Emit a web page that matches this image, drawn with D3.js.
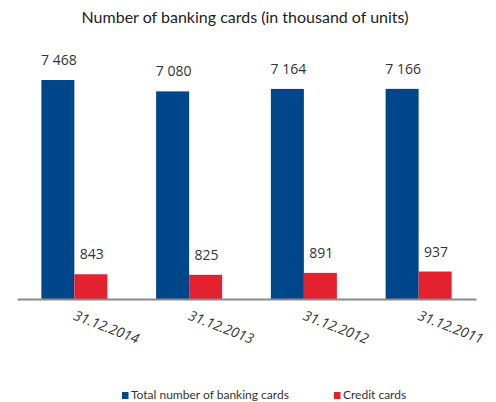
<!DOCTYPE html>
<html><head><meta charset="utf-8">
<script src="https://cdn.jsdelivr.net/npm/d3@7"></script>
<style>body{margin:0;background:#fff}svg{display:block}text{font-family:"Open Sans",sans-serif;fill:#333}</style>
</head><body><svg id="c" width="496" height="402"></svg>
<script>
const categories = ["31.12.2014","31.12.2013","31.12.2012","31.12.2011"];
const totalCards = [7468, 7080, 7164, 7166];
const creditCards = [843, 825, 891, 937];
const seriesNames = ["Total number of banking cards","Credit cards"];
const colors = ["#00468b","#e3212f"];
const fmt = v => d3.format(",")(v).replace(/,/g," ");

const svg = d3.select("#c");
const x = d3.scaleBand().domain(categories).range([17,476]).paddingInner(0).paddingOuter(0);
const y = d3.scaleLinear().domain([0,8000]).range([299,64.4]);
const bw = 33;

svg.append("text").attr("x",245).attr("y",23).attr("text-anchor","middle")
  .style("font-family","Lato, sans-serif")
  .style("font-size","16px").style("fill","#222").text("Number of banking cards (in thousand of units)");

const series = [totalCards, creditCards];
series.forEach((vals,si)=>{
  const g = svg.append("g");
  g.selectAll("rect").data(vals).join("rect")
    .attr("x",(d,i)=>x(categories[i])+x.bandwidth()/2 - bw + si*bw)
    .attr("y",d=>y(d)).attr("width",bw).attr("height",d=>y(0)-y(d))
    .attr("fill",colors[si]);
  g.selectAll("text").data(vals).join("text")
    .attr("x",(d,i)=>x(categories[i])+x.bandwidth()/2 - bw/2 + si*bw + 1)
    .attr("y",d=>y(d)-15).attr("text-anchor","middle")
    .style("font-size","14px").text(d=>fmt(d));
});

const ax = svg.append("g").attr("transform","translate(0,299)").call(d3.axisBottom(x).tickSize(0).tickFormat(""));
ax.select(".domain").attr("stroke","#8a8a8a").attr("stroke-width",2);

svg.append("g").selectAll("text").data(categories).join("text")
  .attr("transform",d=>`translate(${x(d)+x.bandwidth()/2},320) rotate(21)`)
  .attr("text-anchor","start").attr("x",-2)
  .style("font-size","14px").style("font-style","italic").text(d=>d);

const legX = [122, 334];
seriesNames.forEach((n,i)=>{
  svg.append("rect").attr("x",legX[i]).attr("y",392).attr("width",6.5).attr("height",7).attr("fill",colors[i]);
  svg.append("text").attr("x",legX[i]+9).attr("y",398.5)
    .style("font-family","Lato, sans-serif").style("font-size","12px").text(n);
});
</script></body></html>
